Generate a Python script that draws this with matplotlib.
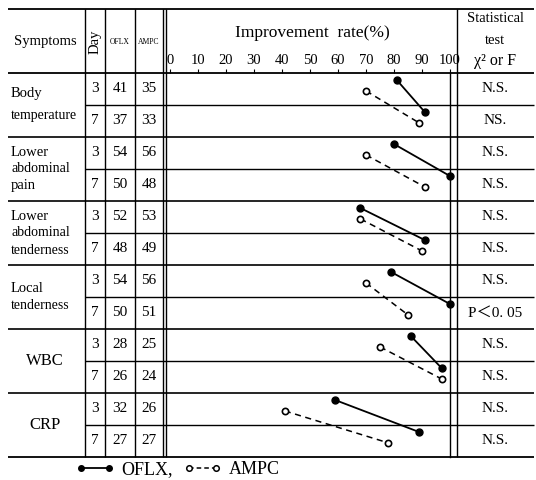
import matplotlib.pyplot as plt
from matplotlib.lines import Line2D

plt.rcParams['font.family'] = ['Liberation Serif', 'DejaVu Serif']

# one entry per symptom (two rows each: day 3 and day 7)
symptom_labels = [['Body', 'temperature'],
                  ['Lower', 'abdominal', 'pain'],
                  ['Lower', 'abdominal', 'tenderness'],
                  ['Local', 'tenderness'],
                  ['WBC'],
                  ['CRP']]
days = [3, 7] * 6
oflx_n = [41, 37, 54, 50, 52, 48, 54, 50, 28, 26, 32, 27]
ampc_n = [35, 33, 56, 48, 53, 49, 56, 51, 25, 24, 26, 27]
oflx_rate = [81, 91, 80, 100, 68, 91, 79, 100, 86, 97, 59, 89]
ampc_rate = [70, 89, 70, 91, 68, 90, 70, 85, 75, 97, 41, 78]
stat_test = ['N.S.', 'NS.', 'N.S.', 'N.S.', 'N.S.', 'N.S.',
             'N.S.', 'P＜0. 05', 'N.S.', 'N.S.', 'N.S.', 'N.S.']
xticks = [0, 10, 20, 30, 40, 50, 60, 70, 80, 90, 100]

W, H = 536, 480
top, head, row_h = 9, 73, 32
nrows = len(days)
bottom = head + row_h * nrows
mixed = ['Liberation Serif', 'Noto Sans CJK JP']

fig = plt.figure(figsize=(W / 100, H / 100), dpi=100)

# table frame in pixel units
tab = fig.add_axes([0, 0, 1, 1])
tab.set_xlim(0, W)
tab.set_ylim(H, 0)
tab.axis('off')

tab.hlines([top, head, bottom], 8, 534, color='k', lw=1.3)
for i in range(1, nrows):
    y = head + row_h * i
    x0 = 85 if i % 2 else 8
    tab.hlines(y, x0, 534, color='k', lw=1.0 if i % 2 else 1.2)
tab.vlines([85, 105, 135, 163, 166, 457], top, bottom, color='k', lw=1.0)

# header
tab.text(45, 42, 'Symptoms', ha='center', va='center', fontsize=10.5)
tab.text(95, 42, 'Day', ha='center', va='center', fontsize=10.5, rotation=90)
tab.text(120, 42, 'OFLX', ha='center', va='center', fontsize=5.5)
tab.text(149, 42, 'AMPC', ha='center', va='center', fontsize=5.5)
tab.text(312, 33, 'Improvement  rate(%)', ha='center', va='center', fontsize=12.5)
tab.text(495, 18, 'Statistical', ha='center', va='center', fontsize=10.5)
tab.text(495, 40, 'test', ha='center', va='center', fontsize=10.5)
tab.text(495, 61, 'χ² or F', ha='center', va='center', fontsize=11.5)

# body cells
for i in range(nrows):
    yc = head + row_h * (i + 0.5)
    tab.text(95, yc, str(days[i]), ha='center', va='center', fontsize=11)
    tab.text(120, yc, str(oflx_n[i]), ha='center', va='center', fontsize=11)
    tab.text(149, yc, str(ampc_n[i]), ha='center', va='center', fontsize=11)
    tab.text(495, yc, stat_test[i], ha='center', va='center', fontsize=11,
             family=mixed)

for g, lines in enumerate(symptom_labels):
    y0 = head + row_h * 2 * g
    if len(lines) == 1:
        tab.text(45, y0 + row_h, lines[0], ha='center', va='center', fontsize=12)
        continue
    n = len(lines)
    step = 22 if g == 0 else 17
    start = y0 + row_h - step * (n - 1) / 2
    for k, s in enumerate(lines):
        fs = 10.5 if len(s) <= 6 else 10
        tab.text(11, start + k * step, s, ha='left', va='center', fontsize=fs)

# improvement-rate panel
ax = fig.add_axes([170 / W, 1 - bottom / H, (450 - 170) / W, row_h * nrows / H])
ax.set_xlim(0, 100)
ax.set_ylim(nrows, 0)
ax.patch.set_alpha(0)
for sp in ax.spines.values():
    sp.set_visible(False)
ax.axvline(100, color='k', lw=1.0, clip_on=False)
ax.xaxis.tick_top()
ax.set_xticks(xticks)
ax.set_xticklabels([str(t) for t in xticks], fontsize=10.5)
ax.tick_params(axis='x', length=3, width=0.8, pad=1)
ax.set_yticks([])

for g in range(nrows // 2):
    r = [2 * g, 2 * g + 1]
    ax.plot([oflx_rate[r[0]], oflx_rate[r[1]]], [r[0] + 0.22, r[1] + 0.22],
            color='k', lw=1.3, marker='o', ms=5, clip_on=False)
    ax.plot([ampc_rate[r[0]], ampc_rate[r[1]]], [r[0] + 0.56, r[1] + 0.56],
            color='k', lw=1.1, ls=(0, (4, 3)), marker='o', ms=4.5,
            mfc='white', mew=1.2, clip_on=False)

handles = [Line2D([], [], color='k', lw=1.3, marker='o', ms=4),
           Line2D([], [], color='k', lw=1.1, ls=(0, (3, 2)), marker='o', ms=4,
                  mfc='white', mew=1.1)]
fig.legend(handles, ['OFLX,', 'AMPC'], loc='center left',
           bbox_to_anchor=(76 / W, 1 - 470 / H),
           ncol=2, numpoints=2, frameon=False, fontsize=13, handlelength=2.1,
           handletextpad=0.4, columnspacing=0.6, borderpad=0, borderaxespad=0)

fig.savefig('out.png', dpi=100)
